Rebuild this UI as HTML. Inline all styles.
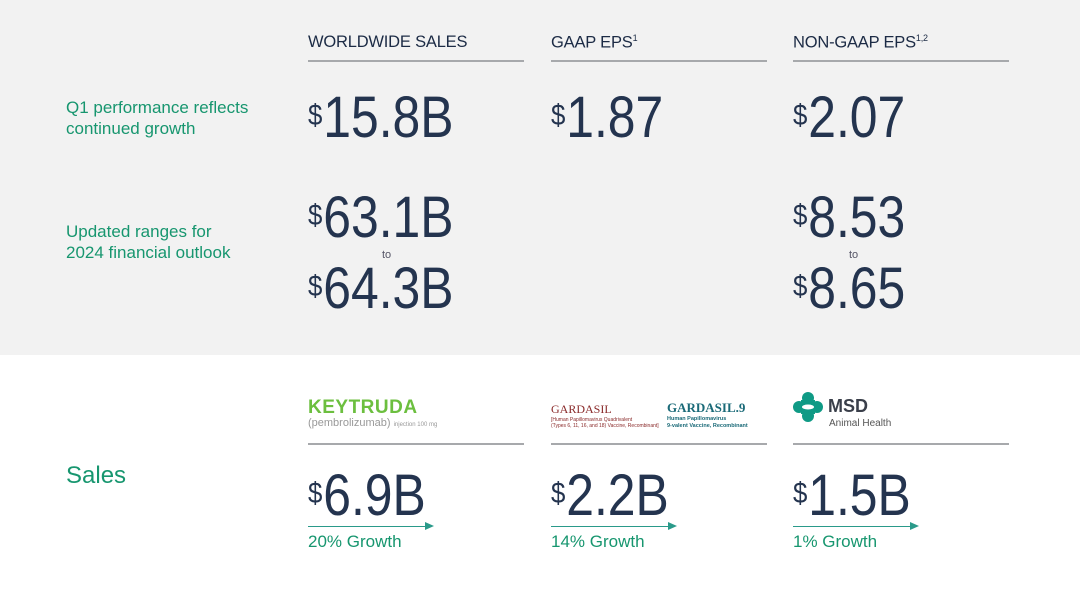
<!DOCTYPE html>
<html><head><meta charset="utf-8"><style>
body{margin:0;width:1080px;height:600px;background:#fff;font-family:"Liberation Sans",sans-serif;position:relative;overflow:hidden}
.a{position:absolute;white-space:nowrap}
.top{position:absolute;left:0;top:0;width:1080px;height:355px;background:#f2f2f2}
.hdr{font-size:16.5px;color:#1c2b45;letter-spacing:-0.2px}
.rule{position:absolute;height:2px;background:#a7a9ac;width:216px}
.lbl{font-size:17px;color:#17966f;line-height:21px}
.big{font-size:58px;color:#24344f;line-height:60px;transform:scaleX(0.86);transform-origin:0 0}
.big sup{font-size:30px;vertical-align:top;position:relative;top:-2px;margin-right:1px}
.to{font-size:11px;color:#556}
.gr{font-size:17px;color:#17966f}
.arrow{position:absolute;height:1px;background:#2a9a8a;width:118px}
.arrow:after{content:"";position:absolute;right:-8px;top:-4px;border-left:9px solid #2a9a8a;border-top:4.5px solid transparent;border-bottom:4.5px solid transparent}
</style></head><body>
<div class="top"></div>
<div class="a hdr" style="left:308px;top:33px">WORLDWIDE SALES</div>
<div class="a hdr" style="left:551px;top:33px">GAAP EPS<sup style="font-size:9px">1</sup></div>
<div class="a hdr" style="left:793px;top:33px">NON-GAAP EPS<sup style="font-size:9px">1,2</sup></div>
<div class="rule" style="left:308px;top:60px"></div>
<div class="rule" style="left:551px;top:60px"></div>
<div class="rule" style="left:793px;top:60px"></div>

<div class="a lbl" style="left:66px;top:97px">Q1 performance reflects<br>continued growth</div>
<div class="a big" style="left:308px;top:88px"><sup>$</sup>15.8B</div>
<div class="a big" style="left:551px;top:88px"><sup>$</sup>1.87</div>
<div class="a big" style="left:793px;top:88px"><sup>$</sup>2.07</div>

<div class="a lbl" style="left:66px;top:221px">Updated ranges for<br>2024 financial outlook</div>
<div class="a big" style="left:308px;top:188px"><sup>$</sup>63.1B</div>
<div class="a to" style="left:382px;top:249px">to</div>
<div class="a big" style="left:308px;top:259px"><sup>$</sup>64.3B</div>
<div class="a big" style="left:793px;top:188px"><sup>$</sup>8.53</div>
<div class="a to" style="left:849px;top:249px">to</div>
<div class="a big" style="left:793px;top:259px"><sup>$</sup>8.65</div>

<div class="a" style="left:66px;top:462px;font-size:24px;color:#17966f">Sales</div>

<div class="a" style="left:308px;top:397px;font-size:19px;font-weight:bold;color:#6cbf3f;letter-spacing:0.5px">KEYTRUDA</div>
<div class="a" style="left:308px;top:417px;font-size:11px;color:#999">(pembrolizumab) <span style="font-size:6px">injection 100 mg</span></div>
<div class="a" style="left:551px;top:402px;font-family:'Liberation Serif',serif;font-size:12px;color:#8a2a2a">GARDASIL<div style="font-family:'Liberation Sans';font-size:5px;line-height:6px;color:#8a2a2a">[Human Papillomavirus Quadrivalent<br>(Types 6, 11, 16, and 18) Vaccine, Recombinant]</div></div>
<div class="a" style="left:667px;top:400px;font-family:'Liberation Serif',serif;font-size:13px;font-weight:bold;color:#1a6a78">GARDASIL.9<div style="font-family:'Liberation Sans';font-size:5.5px;line-height:7px;color:#1a6a78">Human Papillomavirus<br>9-valent Vaccine, Recombinant</div></div>
<svg class="a" style="left:793px;top:392px" width="30" height="30"><circle cx="15" cy="6" r="6" fill="#0f9a85"/><circle cx="15" cy="24" r="6" fill="#0f9a85"/><circle cx="6" cy="15" r="6" fill="#0f9a85"/><circle cx="24" cy="15" r="6" fill="#0f9a85"/><rect x="8" y="8" width="14" height="14" fill="#0f9a85"/><ellipse cx="15" cy="15" rx="6" ry="2.5" fill="#fff"/></svg>
<div class="a" style="left:828px;top:396px;font-size:18px;font-weight:bold;color:#3a3f4a">MSD</div>
<div class="a" style="left:829px;top:418px;font-size:10px;color:#555">Animal Health</div>

<div class="rule" style="left:308px;top:443px"></div>
<div class="rule" style="left:551px;top:443px"></div>
<div class="rule" style="left:793px;top:443px"></div>

<div class="a big" style="left:308px;top:466px"><sup>$</sup>6.9B</div>
<div class="a big" style="left:551px;top:466px"><sup>$</sup>2.2B</div>
<div class="a big" style="left:793px;top:466px"><sup>$</sup>1.5B</div>
<div class="arrow" style="left:308px;top:526px"></div>
<div class="arrow" style="left:551px;top:526px"></div>
<div class="arrow" style="left:793px;top:526px"></div>
<div class="a gr" style="left:308px;top:532px">20% Growth</div>
<div class="a gr" style="left:551px;top:532px">14% Growth</div>
<div class="a gr" style="left:793px;top:532px">1% Growth</div>
</body></html>
